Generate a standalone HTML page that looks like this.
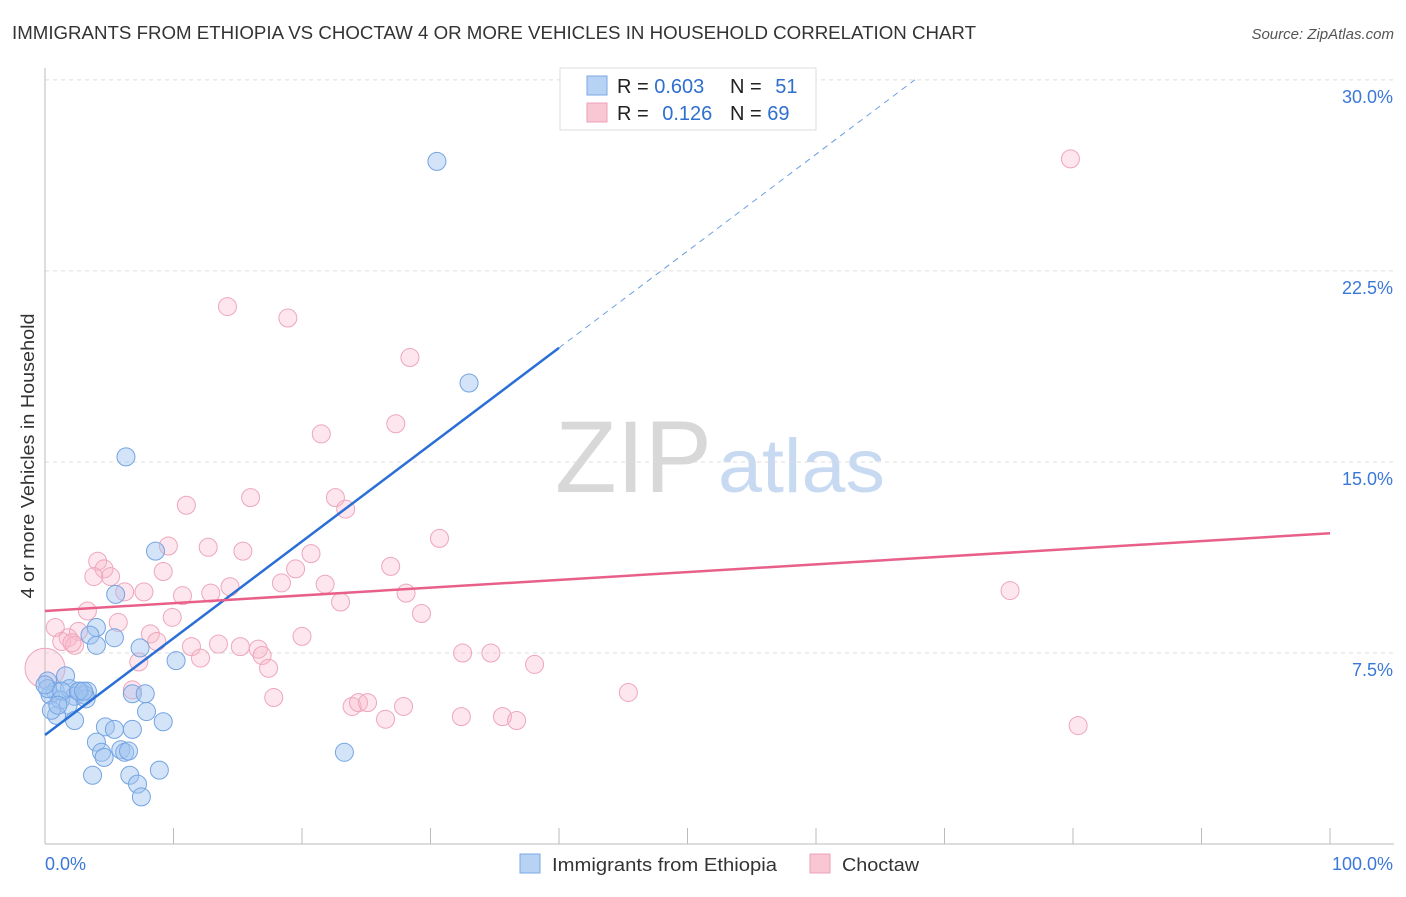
<!DOCTYPE html>
<html><head><meta charset="utf-8"><style>
body{margin:0;background:#fff;font-family:"Liberation Sans",sans-serif;}
svg text{font-family:"Liberation Sans",sans-serif;}
</style></head><body>
<svg id="chart" width="1406" height="892">
<text x="12" y="39" font-size="18" fill="#333" textLength="964" lengthAdjust="spacingAndGlyphs">IMMIGRANTS FROM ETHIOPIA VS CHOCTAW 4 OR MORE VEHICLES IN HOUSEHOLD CORRELATION CHART</text>
<text x="1394" y="39" font-size="15" fill="#555" font-style="italic" text-anchor="end">Source: ZipAtlas.com</text>
<text x="34" y="456" font-size="18" fill="#333" text-anchor="middle" textLength="285" lengthAdjust="spacingAndGlyphs" transform="rotate(-90 34 456)">4 or more Vehicles in Household</text>
<g><text x="555" y="492" font-size="102" fill="#d8d8d8" font-family="Liberation Serif" textLength="157" lengthAdjust="spacingAndGlyphs">ZIP</text><text x="718" y="492" font-size="76" fill="#c8daf2" textLength="167" lengthAdjust="spacingAndGlyphs">atlas</text></g>
<g id="grid"></g><g id="axes"></g><g id="pts"></g><g id="trend"></g>
<g>
<rect x="560" y="68" width="256" height="62" fill="#fff" stroke="#ddd"/>
<rect x="587" y="76" width="20" height="19" fill="#b8d2f4" stroke="#7aa8e4"/>
<rect x="587" y="103" width="20" height="19" fill="#f9c6d4" stroke="#eca0b8"/>
<text x="617" y="93" font-size="20" fill="#222">R = <tspan fill="#2f6fd0">0.603</tspan></text>
<text x="730" y="93" font-size="20" fill="#222">N = <tspan fill="#2f6fd0" dx="8">51</tspan></text>
<text x="617" y="120" font-size="20" fill="#222">R = <tspan fill="#2f6fd0" dx="8">0.126</tspan></text>
<text x="730" y="120" font-size="20" fill="#222">N = <tspan fill="#2f6fd0">69</tspan></text>
</g>
<g>
<rect x="520" y="854" width="20" height="19" fill="#b8d2f4" stroke="#7aa8e4"/>
<text x="552" y="871" font-size="18" fill="#333" textLength="225" lengthAdjust="spacingAndGlyphs">Immigrants from Ethiopia</text>
<rect x="810" y="854" width="20" height="19" fill="#f9c6d4" stroke="#eca0b8"/>
<text x="842" y="871" font-size="18" fill="#333" textLength="77" lengthAdjust="spacingAndGlyphs">Choctaw</text>
</g>
</svg>
<script>
const blueX=[30.5,33.0,6.3,8.6,5.5,4.0,3.5,5.4,4.0,7.4,10.2,0.2,1.6,0.8,0.4,1.9,2.7,3.3,2.3,3.1,1.2,1.8,0.9,2.3,6.8,7.8,7.9,9.2,4.7,5.4,6.8,4.0,4.4,4.6,5.9,6.2,6.5,6.6,3.7,8.9,7.2,7.5,23.3,0.2,0.5,1.3,3.2,2.6,3.0,1.0,0];
const blueY=[26.8,18.1,15.2,11.5,9.8,8.5,8.2,8.1,7.8,7.7,7.2,6.4,6.6,6.0,5.85,6.1,6.0,6.0,5.8,5.85,5.65,5.45,5.05,4.85,5.9,5.9,5.2,4.8,4.6,4.5,4.5,4.0,3.6,3.4,3.7,3.6,3.65,2.7,2.7,2.9,2.35,1.85,3.6,6.1,5.25,6.0,5.7,6.0,6.0,5.45,6.25];
const pinkX=[79.8,14.2,18.9,28.4,27.3,21.5,11.0,16.0,22.6,23.4,30.7,9.6,12.7,15.4,20.7,4.1,4.6,19.5,26.9,3.8,5.1,9.2,14.4,18.4,21.8,10.7,12.9,6.2,7.7,75.1,28.1,23.0,3.3,9.9,29.3,0.8,2.6,1.8,1.3,2.3,5.7,8.2,8.7,20.0,11.4,13.5,15.2,16.6,16.9,17.4,12.1,7.3,32.5,34.7,38.1,6.8,17.8,23.9,24.4,25.1,27.9,26.5,32.4,35.6,36.7,45.4,80.4,2.1,0];
const pinkY=[26.9,21.1,20.65,19.1,16.5,16.1,13.3,13.6,13.6,13.15,12.0,11.7,11.65,11.5,11.4,11.1,10.8,10.8,10.9,10.5,10.5,10.7,10.1,10.25,10.2,9.75,9.85,9.9,9.9,9.95,9.85,9.5,9.15,8.9,9.05,8.5,8.35,8.1,7.95,7.8,8.7,8.25,7.95,8.15,7.75,7.85,7.75,7.65,7.4,6.9,7.3,7.15,7.5,7.5,7.05,6.05,5.75,5.4,5.55,5.55,5.4,4.9,5.0,5.0,4.85,5.95,4.65,7.9,6.9];
const yTicks=[7.5,15.0,22.5,30.0];
const yTickLabels=["7.5%","15.0%","22.5%","30.0%"];
const xTickVals=[0,10,20,30,40,50,60,70,80,90,100];
const blueTrend=[4.28,0.38];
const pinkTrend=[9.15,0.0305];
const NS="http://www.w3.org/2000/svg";
const sx=v=>45+v*12.85, sy=v=>844-v*25.47;
function mk(tag,attrs,parent){const e=document.createElementNS(NS,tag);for(const k in attrs)e.setAttribute(k,attrs[k]);parent.appendChild(e);return e;}
const grid=document.getElementById('grid'),axes=document.getElementById('axes'),pts=document.getElementById('pts'),tr=document.getElementById('trend');
yTicks.forEach((t,i)=>{
 const l=mk('line',{x1:45,x2:1394,y1:sy(t),y2:sy(t),stroke:'#ddd','stroke-dasharray':'4,4'},grid);
 
 
 const tx=mk('text',{x:1393,y:sy(t)+23,'font-size':18,fill:'#3a78d8','text-anchor':'end'},grid);
 tx.textContent=yTickLabels[i];
 
 
});
const ya=mk('line',{x1:45,x2:45,y1:68,y2:844,stroke:'#bbb'},axes);


const xa=mk('line',{x1:45,x2:1394,y1:844,y2:844,stroke:'#bbb'},axes);


xTickVals.forEach(v=>{
 const t=mk('line',{x1:sx(v),x2:sx(v),y1:828,y2:844,stroke:'#bbb'},axes);
 
 
});
[["0.0%",45,'start'],["100.0%",1393,'end']].forEach(a=>{
 const t=mk('text',{x:a[1],y:870,'font-size':18,fill:'#3a78d8','text-anchor':a[2]},axes);t.textContent=a[0];
 
 
});
pinkX.forEach((x,i)=>{
 const c=mk('circle',{cx:sx(x),cy:sy(pinkY[i]),r:(x===0?20:9),fill:'rgba(248,182,202,0.35)',stroke:'#eea6bc','stroke-width':1},pts);
 
 
});
blueX.forEach((x,i)=>{
 const c=mk('circle',{cx:sx(x),cy:sy(blueY[i]),r:9,fill:'rgba(160,196,240,0.45)',stroke:'#74a4e2','stroke-width':1},pts);
 
 
});
const b1=mk('line',{x1:sx(0),y1:sy(blueTrend[0]),x2:sx(40),y2:sy(blueTrend[0]+40*blueTrend[1]),stroke:'#2a6fd6','stroke-width':2.5},tr);


const b2=mk('line',{x1:sx(40),y1:sy(blueTrend[0]+40*blueTrend[1]),x2:sx(67.7),y2:sy(blueTrend[0]+67.7*blueTrend[1]),stroke:'#6a9ee0','stroke-width':1,'stroke-dasharray':'6,5'},tr);


const p1=mk('line',{x1:sx(0),y1:sy(pinkTrend[0]),x2:sx(100),y2:sy(pinkTrend[0]+100*pinkTrend[1]),stroke:'#e8608a','stroke-width':2.5},tr);


</script>
</body></html>
